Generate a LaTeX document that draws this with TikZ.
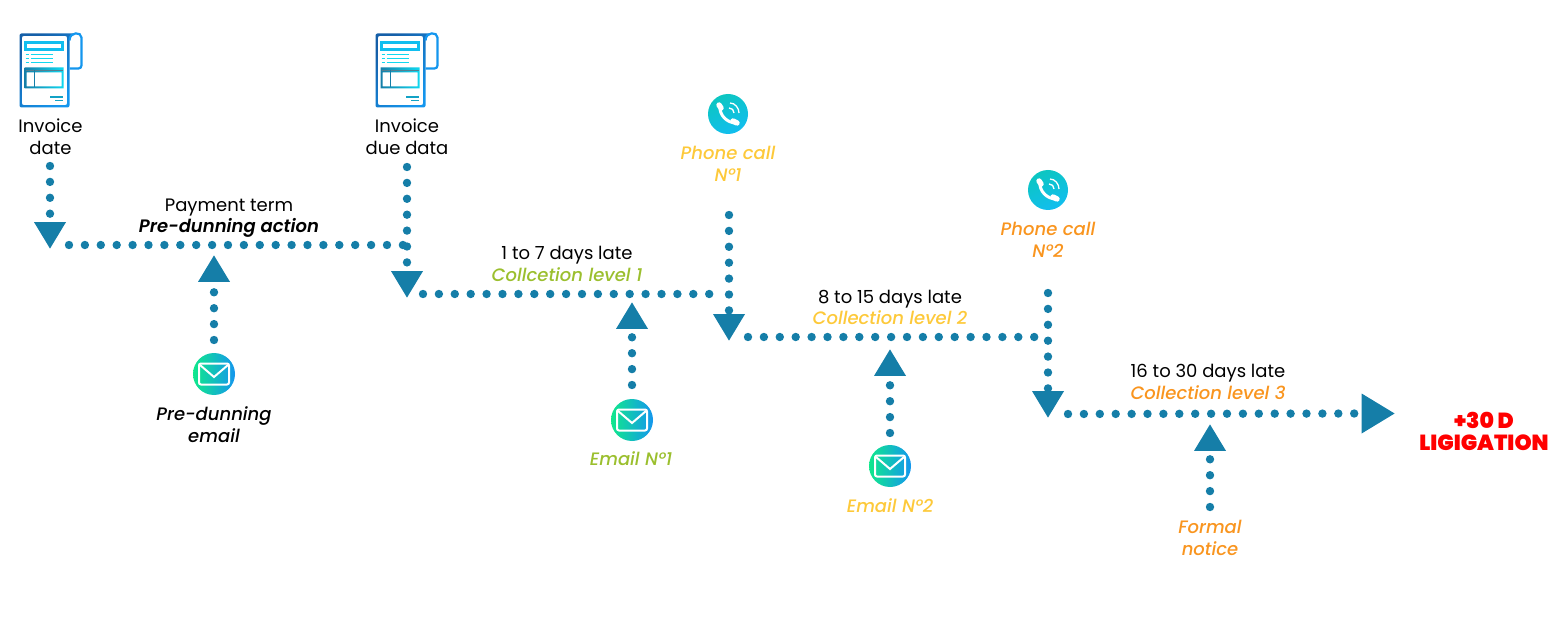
\documentclass[tikz,border=0pt]{standalone}
\usepackage{fontspec}
\setmainfont{Poppins}
\newfontfamily\medfont{Poppins Medium}
\newfontfamily\semifont{Poppins SemiBold}
\newfontfamily\heavyfont{Poppins Black}
\usetikzlibrary{shapes.geometric}
\definecolor{flow}{HTML}{157EA8}
\definecolor{levelone}{HTML}{9BBF2E}
\definecolor{leveltwo}{HTML}{FDC93A}
\definecolor{levelthree}{HTML}{F9951F}
\definecolor{navy}{HTML}{155FA8}
\definecolor{aqua}{HTML}{10D8F0}
\definecolor{sky}{HTML}{1496EE}
\definecolor{mint}{HTML}{10E88C}
\tikzset{
	dotline/.style={flow, line width=8.4pt, line cap=round, dash pattern=on 0pt off 15.9pt},
	marker/.style={isosceles triangle, isosceles triangle apex angle=60, isosceles triangle stretches, fill=flow, inner sep=0, minimum height=26.5pt, minimum width=32pt, anchor=apex},
	note/.style={align=center, inner sep=0, font=\fontsize{18}{22}\selectfont},
	action/.style={note, font=\fontsize{18}{22}\selectfont\medfont\itshape},
	mailicon/.pic={
		\shade[left color=mint, middle color=aqua!70!mint, right color=sky] (0,0) circle (21);
		\draw[white, line width=2pt, rounded corners=2pt] (-15,-10.5) rectangle (15,10.5);
		\draw[white, line width=2pt] (-14,-9) -- (0,3) -- (14,-9);
	},
	phoneicon/.pic={
		\shade[top color=teal!30!aqua!80!mint, bottom color=aqua!60!sky, shading angle=25] (0,0) circle (20);
		\draw[white, line width=3pt] (-8,-8) .. controls (-9,1) and (-1,9) .. (8,9);
		\draw[white, line width=5.4pt, line cap=round] (-9,-9) -- (-7,-6) (5,7) -- (9,9);
		\draw[white, line width=1.3pt] (1,-6) .. controls (4,-6) and (6,-4) .. (6,-1) (2,-11) .. controls (7,-11) and (11,-6) .. (11,-1);
	},
	invoiceicon/.pic={
		\shade[even odd rule, left color=navy, middle color=aqua, right color=sky, shading angle=45, rounded corners=2pt]
			(0,0) -- (56,0) -- (50,3) -- (50,74) -- (0,74) -- cycle
			(2.4,2.4) -- (47.6,2.4) -- (47.6,71.6) -- (2.4,71.6) -- cycle;
		\draw[sky, line width=2.2pt, rounded corners=3pt] (50,35) -- (62,35) -- (62,7) .. controls (62,-2) and (50,-2) .. (50,7);
		\draw[aqua!60!sky, line width=2.2pt] (6,9) rectangle (43,16);
		\draw[aqua, line width=1.7pt] (6,21) -- (9,21) (11,21) -- (33,21) (6,25) -- (9,25) (11,25) -- (33,25) (6,29) -- (9,29) (11,29) -- (33,29);
		\shade[even odd rule, left color=flow, right color=aqua] (5,34) rectangle (44,55) (7,39) rectangle (42,53);
		\draw[gray!60!flow, line width=1pt] (6,37) -- (43,37);
		\draw[flow, line width=1.6pt] (15,37) -- (15,54);
		\draw[aqua!40!flow, line width=1.6pt] (30.5,63.5) -- (43.5,63.5) (35.5,67) -- (43.5,67);
	}
}
\begin{document}
\begin{tikzpicture}[x=1pt, y=-1pt]
\useasboundingbox (0,0) rectangle (1566,620);
% icons
\pic at (19.5,33.5) {invoiceicon};
\pic at (375.5,33.5) {invoiceicon};
\pic at (214,374) {mailicon};
\pic at (632,420) {mailicon};
\pic at (890,466) {mailicon};
\pic at (728,114) {phoneicon};
\pic at (1048,190) {phoneicon};
% texts
\node[note] (invdate) at (50.5,137) {Invoice\\date};
\node[note] (invdue) at (407,137) {Invoice\\due data};
\node[note, font=\fontsize{18}{21}\selectfont] (term) at (229,218) {Payment term\\{\semifont\itshape Pre-dunning action}};
\node[note] (late1) at (567,264) {1 to 7 days late\\\textcolor{levelone}{\medfont\itshape Collcetion level 1}};
\node[note, font=\fontsize{18}{21}\selectfont] (late2) at (890,307.5) {8 to 15 days late\\\textcolor{leveltwo}{\medfont\itshape Collection level 2}};
\node[note] (late3) at (1208,382) {16 to 30 days late\\\textcolor{levelthree}{\medfont\itshape Collection level 3}};
\node[action] (prelabel) at (214,424.5) {Pre-dunning\\email};
\node[action, text=levelone] (mail1label) at (631,458.5) {Email N°1};
\node[action, text=leveltwo] (mail2label) at (890,505.5) {Email N°2};
\node[action, text=leveltwo] (call1label) at (728,164) {Phone call\\N°1};
\node[action, text=levelthree] (call2label) at (1048,240) {Phone call\\N°2};
\node[action, text=levelthree] (formal) at (1210,538) {Formal\\notice};
\node[note, text=red, font=\fontsize{21.8}{22}\selectfont\heavyfont] (litig) at (1484,431) {+30 D\\LIGIGATION};
% triangles
\node[marker, rotate=-90] (down1) at (50,249) {};
\node[marker, rotate=-90] (down2) at (407,298) {};
\node[marker, rotate=-90] (down3) at (729,341) {};
\node[marker, rotate=-90] (down4) at (1048,418) {};
\node[marker, rotate=90] (up1) at (214,255) {};
\node[marker, rotate=90] (up2) at (632,302) {};
\node[marker, rotate=90] (up3) at (890,349) {};
\node[marker, rotate=90] (up4) at (1210,424) {};
\node[marker, minimum height=33pt, minimum width=40pt] (finish) at (1395,413.5) {};
% dots
\coordinate (a1) at (69,245);
\coordinate (a2) at (403,245);
\coordinate (b1) at (423,294);
\coordinate (b2) at (725,294);
\coordinate (c1) at (748,337);
\coordinate (c2) at (1045,337);
\coordinate (d1) at (1068,414);
\coordinate (fromdate) at (50,166);
\coordinate (fromdue) at (407,167);
\coordinate (fromcall1) at (729,215);
\coordinate (fromcall2) at (1048,293);
\coordinate (frommail) at (214,340);
\coordinate (frommail1) at (632,385);
\coordinate (frommail2) at (890,433);
\coordinate (fromformal) at (1210,507);
\draw[dotline] (a1) -- (a2);
\draw[dotline] (b1) -- (b2);
\draw[dotline] (c1) -- (c2);
\draw[dotline] (d1) -- (finish.west);
\draw[dotline] (fromdate) -- (down1.west);
\draw[dotline] (fromdue) -- (down2.west);
\draw[dotline] (fromcall1) -- (down3.west);
\draw[dotline] (fromcall2) -- (down4.west);
\draw[dotline] (frommail) -- (up1.west);
\draw[dotline] (frommail1) -- (up2.west);
\draw[dotline] (frommail2) -- (up3.west);
\draw[dotline] (fromformal) -- (up4.west);
\end{tikzpicture}
\end{document}
